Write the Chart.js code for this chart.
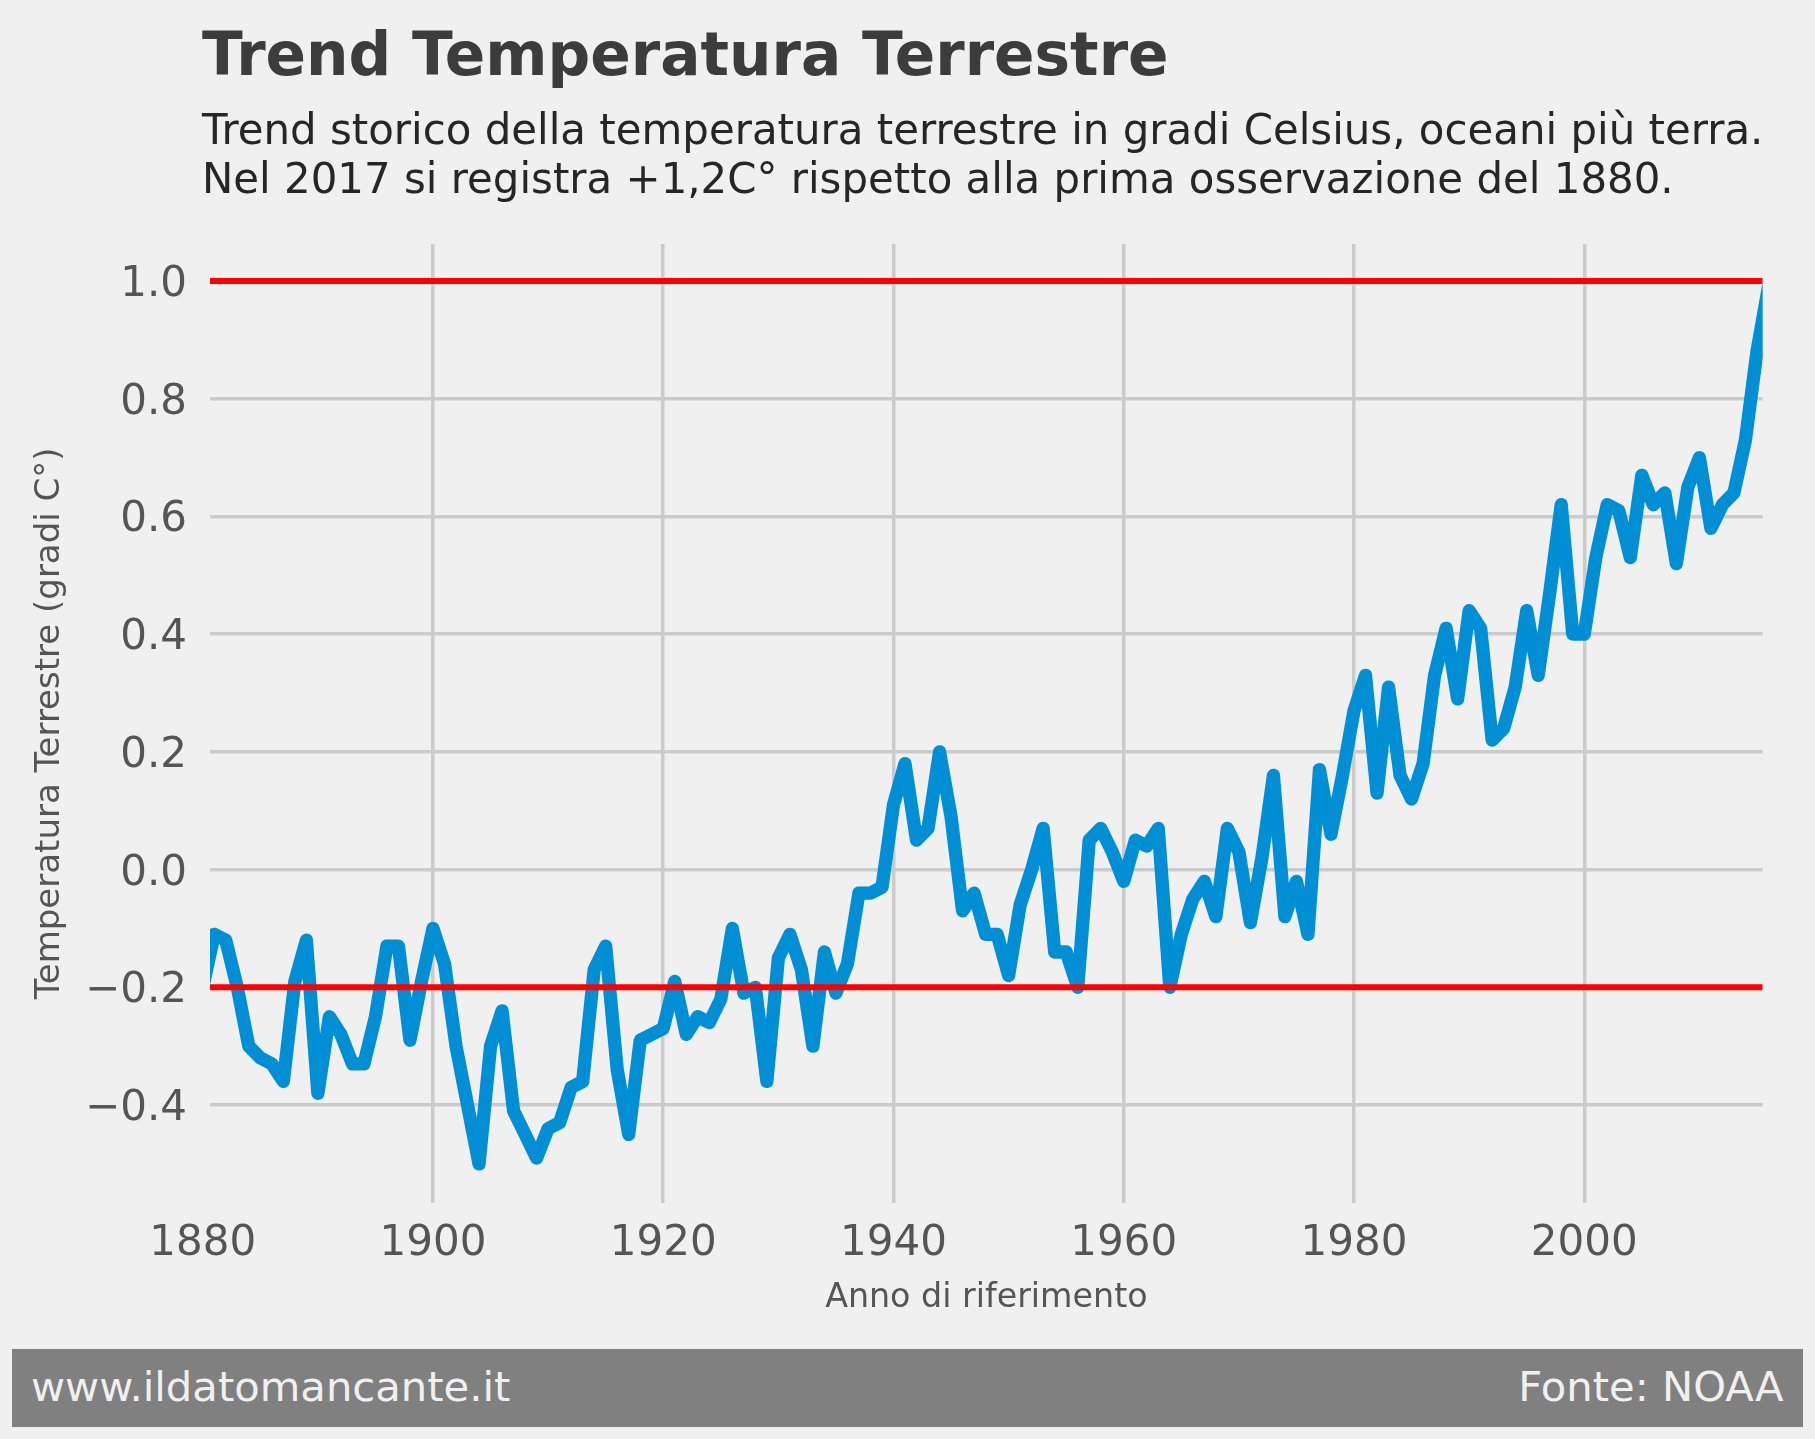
<!DOCTYPE html>
<html>
<head>
<meta charset="utf-8">
<script src="https://cdn.jsdelivr.net/npm/chart.js@4"></script>
<style>
html,body{margin:0;padding:0;background:#f0f0f0;width:1815px;height:1439px;overflow:hidden;font-family:'DejaVu Sans',sans-serif;}
#c{position:absolute;left:0;top:0;}
.t{position:absolute;white-space:nowrap;line-height:1;margin:0;}
#title{left:202px;top:24.5px;font-size:59.7px;font-weight:bold;color:#3c3c3c;}
#sub{left:202px;top:106.3px;font-size:41.9px;line-height:48.3px;color:#262626;}
#footer{position:absolute;left:12px;top:1349px;width:1791px;height:78px;background:#808080;}
#fl{left:31px;top:1365.7px;font-size:41.7px;color:#f0f0f0;}
#fr{right:31.5px;top:1365.7px;font-size:41.7px;color:#f0f0f0;}
</style>
</head>
<body>
<canvas id="c" width="1815" height="1439"></canvas>
<div class="t" id="title">Trend Temperatura Terrestre</div>
<div class="t" id="sub">Trend storico della temperatura terrestre in gradi Celsius, oceani più terra.<br>Nel 2017 si registra +1,2C° rispetto alla prima osservazione del 1880.</div>
<div id="footer"></div>
<div class="t" id="fl">www.ildatomancante.it</div>
<div class="t" id="fr">Fonte: NOAA</div>
<script>
// ---- Data ----
const years = [
1880,1881,1882,1883,1884,1885,1886,1887,1888,1889,
1890,1891,1892,1893,1894,1895,1896,1897,1898,1899,
1900,1901,1902,1903,1904,1905,1906,1907,1908,1909,
1910,1911,1912,1913,1914,1915,1916,1917,1918,1919,
1920,1921,1922,1923,1924,1925,1926,1927,1928,1929,
1930,1931,1932,1933,1934,1935,1936,1937,1938,1939,
1940,1941,1942,1943,1944,1945,1946,1947,1948,1949,
1950,1951,1952,1953,1954,1955,1956,1957,1958,1959,
1960,1961,1962,1963,1964,1965,1966,1967,1968,1969,
1970,1971,1972,1973,1974,1975,1976,1977,1978,1979,
1980,1981,1982,1983,1984,1985,1986,1987,1988,1989,
1990,1991,1992,1993,1994,1995,1996,1997,1998,1999,
2000,2001,2002,2003,2004,2005,2006,2007,2008,2009,
2010,2011,2012,2013,2014,2015,2016
];
const temps = [
-0.20,-0.11,-0.12,-0.20,-0.30,-0.32,-0.33,-0.36,-0.19,-0.12,
-0.38,-0.25,-0.28,-0.33,-0.33,-0.25,-0.13,-0.13,-0.29,-0.19,
-0.10,-0.16,-0.30,-0.40,-0.50,-0.30,-0.24,-0.41,-0.45,-0.49,
-0.44,-0.43,-0.37,-0.36,-0.17,-0.13,-0.34,-0.45,-0.29,-0.28,
-0.27,-0.19,-0.28,-0.25,-0.26,-0.22,-0.10,-0.21,-0.20,-0.36,
-0.15,-0.11,-0.17,-0.30,-0.14,-0.21,-0.16,-0.04,-0.04,-0.03,
0.11,0.18,0.05,0.07,0.20,0.09,-0.07,-0.04,-0.11,-0.11,
-0.18,-0.06,0.00,0.07,-0.14,-0.14,-0.20,0.05,0.07,0.03,
-0.02,0.05,0.04,0.07,-0.20,-0.11,-0.05,-0.02,-0.08,0.07,
0.03,-0.09,0.02,0.16,-0.08,-0.02,-0.11,0.17,0.06,0.16,
0.27,0.33,0.13,0.31,0.16,0.12,0.18,0.33,0.41,0.29,
0.44,0.41,0.22,0.24,0.31,0.44,0.33,0.47,0.62,0.40,
0.40,0.53,0.62,0.61,0.53,0.67,0.62,0.64,0.52,0.65,
0.70,0.58,0.62,0.64,0.73,0.88,0.99
];
const refLevels = [1.0, -0.2];
const xTickValues = [1880,1900,1920,1940,1960,1980,2000];
const yTickValues = [-0.4,-0.2,0.0,0.2,0.4,0.6,0.8,1.0];
const xTitle = 'Anno di riferimento';
const yTitle = 'Temperatura Terrestre (gradi C°)';

// ---- Axis ranges ----
const X_MIN = 1880.63, X_MAX = 2015.5;
const Y_MIN = -0.566, Y_MAX = 1.063;

Chart.defaults.font.family = "'DejaVu Sans', sans-serif";

const refDatasets = refLevels.map(v => ({
  data: [{x: X_MIN, y: v}, {x: X_MAX, y: v}],
  borderColor: '#ff0000',
  borderWidth: 6,
  borderCapStyle: 'butt',
  pointRadius: 0,
  fill: false
}));

const fmt = v => (v < 0 ? '\u2212' : '') + Math.abs(v).toFixed(1);

new Chart(document.getElementById('c'), {
  type: 'line',
  data: {
    datasets: [
      ...refDatasets,
      {
        data: years.map((yr, i) => ({x: yr, y: temps[i]})),
        borderColor: '#008fd5',
        borderWidth: 13.3,
        borderJoinStyle: 'round',
        borderCapStyle: 'round',
        pointRadius: 0,
        tension: 0,
        fill: false
      }
    ]
  },
  options: {
    responsive: false,
    animation: false,
    events: [],
    layout: { padding: { left: 0, top: 244, right: 52.3, bottom: 120.7 } },
    plugins: { legend: { display: false }, tooltip: { enabled: false } },
    scales: {
      x: {
        type: 'linear',
        min: X_MIN,
        max: X_MAX,
        afterBuildTicks: s => { s.ticks = xTickValues.map(v => ({value: v})); },
        afterFit: s => { s.height = 115.6; },
        border: { display: false },
        grid: {
          drawTicks: false,
          lineWidth: 3.5,
          color: ctx => (ctx.tick && ctx.tick.value < X_MIN) ? 'rgba(0,0,0,0)' : '#cbcbcb'
        },
        ticks: {
          autoSkip: false,
          maxRotation: 0,
          minRotation: 0,
          padding: 16,
          color: '#555555',
          font: { size: 42 },
          callback: v => String(v)
        },
        title: {
          display: true,
          text: xTitle,
          color: '#555555',
          font: { size: 33.3 },
          padding: { top: 0, bottom: 0 }
        }
      },
      y: {
        type: 'linear',
        min: Y_MIN,
        max: Y_MAX,
        afterBuildTicks: s => { s.ticks = yTickValues.map(v => ({value: v})); },
        afterFit: s => { s.width = 210; },
        border: { display: false },
        grid: { drawTicks: false, lineWidth: 3.5, color: '#cbcbcb' },
        ticks: {
          padding: 23,
          labelOffset: 4,
          color: '#555555',
          font: { size: 42 },
          callback: v => fmt(v)
        },
        title: {
          display: true,
          text: yTitle,
          color: '#555555',
          font: { size: 34 },
          padding: { top: 30, bottom: 0 }
        }
      }
    }
  }
});
</script>
</body>
</html>
